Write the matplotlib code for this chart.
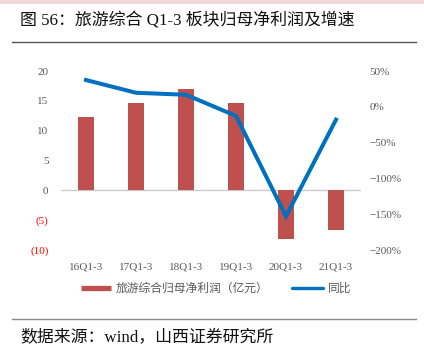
import matplotlib
matplotlib.use("Agg")
import matplotlib.pyplot as plt
from matplotlib.lines import Line2D
from matplotlib.patches import Rectangle
from matplotlib.ticker import FuncFormatter

plt.rcParams['font.family'] = ['Liberation Serif', 'Noto Sans CJK SC', 'DejaVu Sans']

categories = ["16Q1-3", "17Q1-3", "18Q1-3", "19Q1-3", "20Q1-3", "21Q1-3"]
profit = [12.3, 14.7, 16.9, 14.7, -8.1, -6.7]
yoy = [37.4, 19.6, 16.8, -12.7, -153.0, -18.0]
left_ticks = [-10, -5, 0, 5, 10, 15, 20]
right_ticks = [-200, -150, -100, -50, 0, 50]

title = "图 56：旅游综合 Q1-3 板块归母净利润及增速"
source = "数据来源：wind，山西证券研究所"
legend_bar = "旅游综合归母净利润（亿元）"
legend_line = "同比"

W, H = 424, 354
fig = plt.figure(figsize=(W / 100, H / 100), dpi=100)
fig.patch.set_facecolor("white")

# top pink band
fig.add_artist(Rectangle((0, 1 - 4 / H), 1, 4 / H, transform=fig.transFigure,
                         facecolor="#f2d9dc", edgecolor="none"))
fig.text(20 / W, 1 - 21 / H, title, fontsize=12.2, va="center", ha="left", color="#111111")
fig.add_artist(Line2D([12 / W, 416 / W], [1 - 42 / H, 1 - 42 / H], transform=fig.transFigure,
                      color="#555555", lw=1.0))
fig.add_artist(Line2D([12 / W, 416 / W], [1 - 319 / H, 1 - 319 / H], transform=fig.transFigure,
                      color="#888888", lw=1.0))
fig.text(20 / W, 1 - 337 / H, source, fontsize=12.2, va="center", ha="left", color="#111111")

ax = fig.add_axes([61 / W, 1 - 250 / H, 300 / W, 179 / H])
x = list(range(len(categories)))
ax.bar(x, profit, width=0.32, color="#C0504D", zorder=2)
ax.set_xlim(-0.5, len(categories) - 0.5)
ax.set_ylim(-10, 20)
ax.set_yticks(left_ticks)
ax.axhline(0, color="#c8c8c8", lw=0.9, zorder=1)
for s in ax.spines.values():
    s.set_visible(False)
ax.set_xticks(x)
ax.set_xticklabels(categories)
ax.tick_params(axis="x", length=0, labelsize=8, colors="#595959", pad=9)
ax.tick_params(axis="y", length=0, labelsize=8, pad=9)
ax.yaxis.set_major_formatter(FuncFormatter(lambda v, p: f"({int(-v)})" if v < 0 else f"{int(v)}"))
for lbl, v in zip(ax.get_yticklabels(), left_ticks):
    lbl.set_color("#ff0000" if v < 0 else "#595959")

ax2 = ax.twinx()
ax2.plot(x, yoy, color="#0070C0", lw=2.9, zorder=3, solid_joinstyle="miter")
ax2.set_ylim(-200, 50)
ax2.set_yticks(right_ticks)
ax2.yaxis.set_major_formatter(FuncFormatter(lambda v, p: f"{int(v)}%".replace("-", "−")))
ax2.tick_params(axis="y", length=0, labelsize=8, colors="#595959", pad=6)
for s in ax2.spines.values():
    s.set_visible(False)

handles = [Line2D([], [], color="#C0504D", lw=3.8, solid_capstyle="butt"),
           Line2D([], [], color="#0070C0", lw=2.4, solid_capstyle="round")]
fig.legend(handles, [legend_bar, legend_line], loc="center", bbox_to_anchor=(216 / W, 1 - 289 / H),
           ncol=2, frameon=False, fontsize=8.5, handlelength=2.6, columnspacing=2.0,
           handletextpad=0.4, labelcolor="#595959")

fig.savefig("out.png", dpi=100, facecolor="white")
